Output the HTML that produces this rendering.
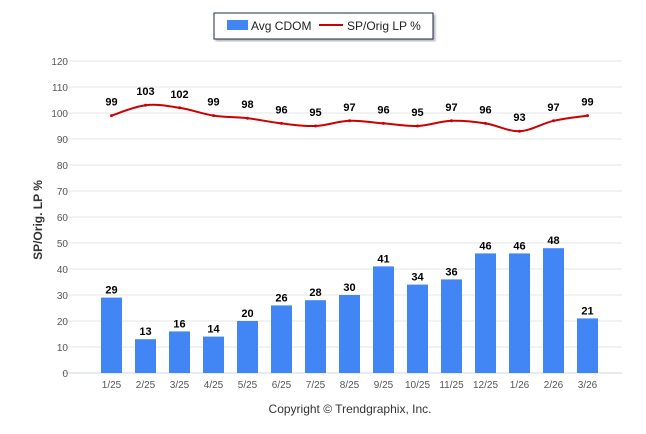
<!DOCTYPE html>
<html><head><meta charset="utf-8"><style>
body{margin:0;background:#fff;}
svg{display:block;font-family:"Liberation Sans",Arial,sans-serif;}
</style></head><body>
<svg id="c" width="646" height="434">
<defs><filter id="sh"><feDropShadow dx="2" dy="2" stdDeviation="1" flood-color="#888" flood-opacity="0.6"/></filter></defs>
<g>
<rect x="214" y="13" width="219" height="26" fill="#fff" stroke="#1a2a4a" stroke-width="1" filter="url(#sh)"/>
<rect x="227" y="20" width="21" height="10" fill="#4285f4"/>
<text x="251" y="30" font-size="12" fill="#222">Avg CDOM</text>
<line x1="319" y1="25" x2="343" y2="25" stroke="#cc0000" stroke-width="2"/>
<text x="347" y="30" font-size="12" fill="#222">SP/Orig LP %</text>
</g>
<text transform="translate(42,220) rotate(-90)" text-anchor="middle" font-size="12" font-weight="bold" fill="#333">SP/Orig. LP %</text>
<g id="grid"></g><g id="bars"></g><g id="line"></g><g id="labels"></g>
<text x="350" y="413" text-anchor="middle" font-size="12" fill="#333">Copyright © Trendgraphix, Inc.</text>
</svg>
<script>
const categories=["1/25","2/25","3/25","4/25","5/25","6/25","7/25","8/25","9/25","10/25","11/25","12/25","1/26","2/26","3/26"];
const cdom=[29,13,16,14,20,26,28,30,41,34,36,46,46,48,21];
const lp=[99,103,102,99,98,96,95,97,96,95,97,96,93,97,99];
const yTicks=[0,10,20,30,40,50,60,70,80,90,100,110,120];
const NS="http://www.w3.org/2000/svg";
const y=v=>373-v*2.6;
const x=i=>111.5+i*34;
function mk(t,a,p){const e=document.createElementNS(NS,t);for(const k in a)e.setAttribute(k,a[k]);document.getElementById(p).appendChild(e);return e;}
yTicks.forEach(v=>{
 const l=mk('line',{x1:62,x2:622,y1:y(v),y2:y(v),stroke:v===0?'#ccd6eb':'#e6e6e6','stroke-width':1},'grid');
 
 
 const t=mk('text',{x:68,y:y(v)+4,'text-anchor':'end','font-size':10,fill:'#555'},'grid');t.textContent=v;
 
 
});
categories.forEach((c,i)=>{
 const t=mk('text',{x:x(i),y:388,'text-anchor':'middle','font-size':10,fill:'#555'},'grid');t.textContent=c;
 
 
 const b=mk('rect',{x:x(i)-10.5,y:y(cdom[i]),width:21,height:cdom[i]*2.6,fill:'#4285f4'},'bars');
 
 
 const bl=mk('text',{x:x(i),y:y(cdom[i])-4,'text-anchor':'middle','font-size':11,'font-weight':'bold',fill:'#000'},'labels');bl.textContent=cdom[i];
 
 
 const ll=mk('text',{x:x(i),y:y(lp[i])-10,'text-anchor':'middle','font-size':11,'font-weight':'bold',fill:'#000'},'labels');ll.textContent=lp[i];
 
 
});
// smooth path
const pts=lp.map((v,i)=>[x(i),y(v)]);
let d='M'+pts[0][0]+','+pts[0][1];
for(let i=0;i<pts.length-1;i++){
 const p0=pts[i-1]||pts[i],p1=pts[i],p2=pts[i+1],p3=pts[i+2]||p2;
 const c1=[p1[0]+(p2[0]-p0[0])/6,p1[1]+(p2[1]-p0[1])/6],c2=[p2[0]-(p3[0]-p1[0])/6,p2[1]-(p3[1]-p1[1])/6];
 d+=` C${c1[0]},${c1[1]} ${c2[0]},${c2[1]} ${p2[0]},${p2[1]}`;
}
const path=mk('path',{d:d,fill:'none',stroke:'#cc0000','stroke-width':2},'line');


pts.forEach((p,i)=>{const c=mk('circle',{cx:p[0],cy:p[1],r:1.5,fill:'#cc0000'},'line');
 
 });
</script>
</body></html>
